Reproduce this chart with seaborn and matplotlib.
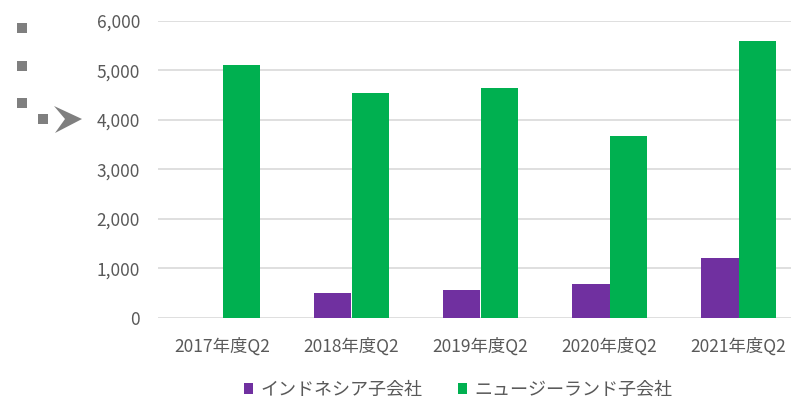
import pandas as pd
import matplotlib.pyplot as plt
import seaborn as sns
from matplotlib.patches import Rectangle, Polygon

quarters = ['2017年度Q2', '2018年度Q2', '2019年度Q2', '2020年度Q2', '2021年度Q2']
indonesia = [0, 495, 560, 695, 1215]
new_zealand = [5100, 4550, 4645, 3680, 5590]
series_names = ['インドネシア子会社', 'ニュージーランド子会社']
y_ticks = [0, 1000, 2000, 3000, 4000, 5000, 6000]

df = pd.DataFrame({
    'quarter': quarters * 2,
    'value': indonesia + new_zealand,
    'series': [series_names[0]] * 5 + [series_names[1]] * 5,
})

sns.set_style('white')
plt.rcParams['font.family'] = ['Noto Sans CJK JP', 'DejaVu Sans']

W, H = 791, 401
fig = plt.figure(figsize=(W / 100, H / 100), dpi=100)
# plot area runs past the right edge of the picture (cropped)
cat_w = 129
left_px, right_px = 158, W
ax = fig.add_axes([left_px / W, (H - 318) / H, (right_px - left_px) / W, (318 - 20.7) / H])

sns.barplot(data=df, x='quarter', y='value', hue='series',
            palette=['#7030A0', '#00B050'], width=0.574, saturation=1,
            linewidth=0, ax=ax, legend=True)

ax.set_xlim(-0.5, -0.5 + (right_px - left_px) / cat_w)
ax.set_ylim(0, 6000)
ax.set_yticks(y_ticks)
ax.set_yticklabels([f'{v:,}' for v in y_ticks])
ax.grid(axis='y', color='#D9D9D9', linewidth=1.2)
ax.set_axisbelow(True)
for s in ['top', 'right', 'left', 'bottom']:
    ax.spines[s].set_visible(False)
ax.tick_params(axis='y', length=0, pad=13, labelsize=12.5, labelcolor='#595959')
ax.tick_params(axis='x', length=0, pad=14, labelsize=12.5, labelcolor='#595959')
ax.set_xlabel('')
ax.set_ylabel('')

handles, labels = ax.get_legend_handles_labels()
ax.legend(handles, labels, loc='center', bbox_to_anchor=(458 / W, (H - 390) / H),
          bbox_transform=fig.transFigure, ncol=2, frameon=False,
          handlelength=0.5, handleheight=0.5, handletextpad=0.4, columnspacing=2.0,
          borderpad=0, fontsize=13, labelcolor='#595959')

# grey slide decorations on the left
grey = '#7F7F7F'
for (x, y) in [(17, 23), (17, 61), (17, 98), (38, 114)]:
    fig.add_artist(Rectangle((x / W, (H - y - 10) / H), 10 / W, 10 / H,
                             transform=fig.transFigure, color=grey, lw=0))
pts = [(54, 106), (82, 119), (55, 133), (65, 119)]
fig.add_artist(Polygon([(x / W, (H - y) / H) for x, y in pts], closed=True,
                       transform=fig.transFigure, color=grey, lw=0))

fig.savefig('out.png', dpi=100)
